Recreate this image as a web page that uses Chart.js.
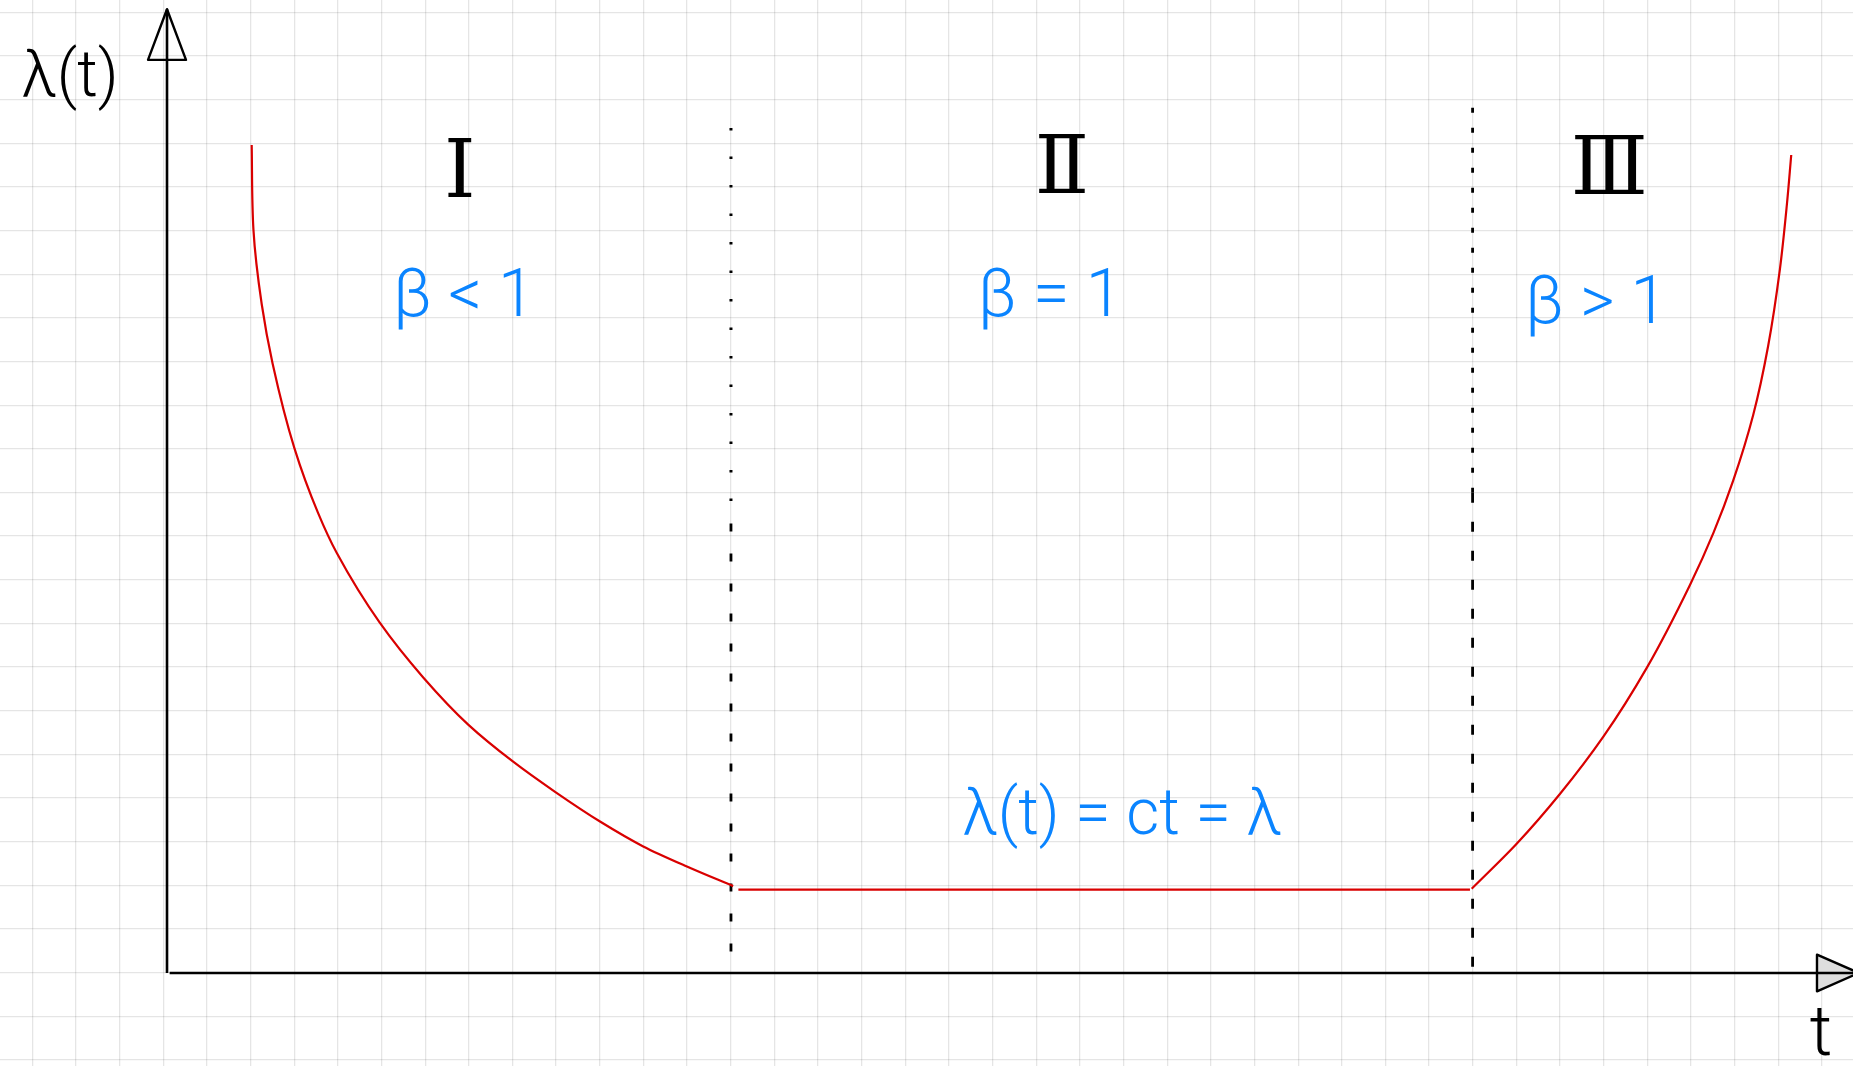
<!DOCTYPE html>
<html>
<head>
<meta charset="utf-8">
<title>λ(t)</title>
<script src="https://cdn.jsdelivr.net/npm/chart.js@4.4.1/dist/chart.umd.min.js"></script>
<style>
  html, body { margin: 0; padding: 0; background: #fff; overflow: hidden; }
  #wrap { width: 1853px; height: 1066px; position: relative; }
</style>
</head>
<body>
<div id="wrap"><canvas id="bathtub"></canvas></div>
<script>
// Units: one square of the graph paper on both axes.

// I: early failures (beta < 1)
const earlyT = [1.94, 1.98, 2.17, 2.42, 2.92, 3.46, 3.89, 4.87, 5.87, 6.90, 7.93, 8.89, 9.92, 10.91, 11.91, 12.97];
const earlyL = [18.97, 17.03, 15.32, 13.96, 12.02, 10.54, 9.62, 8.03, 6.77, 5.69, 4.84, 4.15, 3.47, 2.90, 2.44, 1.99];

// II: random failures, constant rate (beta = 1)
const flatT = [13.09, 29.85];
const flatL = [1.91, 1.91];

// III: wear-out (beta > 1)
const wearT = [29.89, 30.92, 31.91, 32.91, 33.90, 34.89, 35.43, 35.88, 36.34, 36.68, 36.95, 37.11, 37.21];
const wearL = [1.93, 2.96, 4.10, 5.42, 6.99, 8.89, 10.09, 11.28, 12.79, 14.36, 16.12, 17.60, 18.74];

// dividing lines between the phases
const dividerT = [12.92, 29.91];
const dividerTop = [19.36, 19.82];
const dividerSplit = [10.3, 11.0];
const dividerBottom = [0.1, 0.1];

// axes
const axisTEnd = 38.76;
const axisLEnd = 22.08;

// text
const regionNames = ['Ⅰ', 'Ⅱ', 'Ⅲ'];
const regionT = [6.71, 20.50, 33.04];
const regionL = [18.26, 18.35, 18.33];
const shapeTexts = ['β < 1', 'β = 1', 'β > 1'];
const shapeT = [6.80, 20.23, 32.74];
const shapeL = [15.42, 15.42, 15.26];
const flatText = 'λ(t) = ct = λ';
const flatTextT = 21.88, flatTextL = 3.55;
const yTitle = 'λ(t)', yTitleT = -2.22, yTitleL = 20.46;
const xTitle = 't', xTitleT = 37.89, xTitleL = -1.47;

// where the paper lines fall (fraction of a square)
const paperOffsetT = 0.914;
const paperOffsetL = 0.009;

const RED = '#d90000';
const BLUE = '#0a84ff';

function pts(ts, ls) {
    return ts.map((t, i) => ({ x: t, y: ls[i] }));
}

function paperTicks(offset) {
    return (scale) => {
        const ticks = [];
        for (let v = Math.ceil(scale.min - offset) + offset; v <= scale.max; v += 1) {
            ticks.push({ value: v });
        }
        scale.ticks = ticks;
    };
}

// the curves are steep near the top, so interpolate t as a function of lambda
const curve = (data) => ({
    data, borderColor: RED, borderWidth: 2.2, pointRadius: 0,
    indexAxis: 'y', cubicInterpolationMode: 'monotone', fill: false
});

const ink = (data, dash, width, color = '#000') => ({
    data, borderColor: color, borderWidth: width, pointRadius: 0,
    borderDash: dash, borderCapStyle: 'butt', fill: false, tension: 0
});

const datasets = [
    curve(pts(earlyT, earlyL)),
    ink(pts(flatT, flatL), [], 2.2, RED),
    curve(pts(wearT, wearL)),
    ink(pts([dividerT[0], dividerT[0]], [dividerTop[0], dividerSplit[0]]), [2.5, 26], 3),
    ink(pts([dividerT[0], dividerT[0]], [dividerSplit[0], dividerBottom[0]]), [8, 22], 2.8),
    ink(pts([dividerT[1], dividerT[1]], [dividerTop[1], dividerSplit[1]]), [5, 15], 2.8),
    ink(pts([dividerT[1], dividerT[1]], [dividerSplit[1], dividerBottom[1]]), [10, 19], 2.8),
    ink([{ x: 0, y: 0 }, { x: 0, y: axisLEnd }], [], 2.6),
    ink([{ x: 0.06, y: 0 }, { x: axisTEnd, y: 0 }], [], 2.6)
];

// arrow heads, drawn under the axis lines
const arrowHeads = {
    id: 'arrowHeads',
    beforeDatasetsDraw(chart) {
        const { ctx } = chart;
        const sx = chart.scales.x, sy = chart.scales.y;
        const px = (v) => sx.getPixelForValue(v);
        const py = (v) => sy.getPixelForValue(v);
        ctx.save();
        ctx.lineWidth = 2.4;
        ctx.strokeStyle = '#000';
        ctx.lineJoin = 'round';

        ctx.beginPath();
        ctx.moveTo(px(-0.435), py(axisLEnd - 1.16));
        ctx.lineTo(px(0), py(axisLEnd));
        ctx.lineTo(px(0.435), py(axisLEnd - 1.16));
        ctx.closePath();
        ctx.stroke();

        ctx.beginPath();
        ctx.moveTo(px(axisTEnd - 0.96), py(0.42));
        ctx.lineTo(px(axisTEnd), py(0));
        ctx.lineTo(px(axisTEnd - 0.96), py(-0.42));
        ctx.closePath();
        ctx.fillStyle = '#dedede';
        ctx.fill();
        ctx.stroke();
        ctx.restore();
    }
};

// handwritten notes
const notes = {
    id: 'notes',
    afterDatasetsDraw(chart) {
        const { ctx } = chart;
        const sx = chart.scales.x, sy = chart.scales.y;
        const put = (text, t, l, font, color) => {
            ctx.font = font;
            ctx.fillStyle = color;
            ctx.fillText(text, sx.getPixelForValue(t), sy.getPixelForValue(l));
        };
        ctx.save();
        ctx.textAlign = 'center';
        ctx.textBaseline = 'middle';
        regionNames.forEach((n, i) => put(n, regionT[i], regionL[i], '400 80px "DejaVu Serif", serif', '#000'));
        shapeTexts.forEach((s, i) => put(s, shapeT[i], shapeL[i], '300 66px Roboto, sans-serif', BLUE));
        put(flatText, flatTextT, flatTextL, '300 64px Roboto, sans-serif', BLUE);
        put(yTitle, yTitleT, yTitleL, '300 64px Roboto, sans-serif', '#000');
        put(xTitle, xTitleT, xTitleL, '300 70px Roboto, sans-serif', '#000');
        ctx.restore();
    }
};

const paperGrid = { color: 'rgba(0, 0, 0, 0.10)', lineWidth: 1.3, drawTicks: false };

new Chart(document.getElementById('bathtub').getContext('2d'), {
    type: 'line',
    data: { datasets },
    options: {
        responsive: true,
        maintainAspectRatio: false,
        animation: false,
        layout: { padding: 0 },
        scales: {
            x: {
                type: 'linear',
                min: -3.826, max: 38.625,
                ticks: { display: false },
                grid: paperGrid,
                border: { display: false },
                afterBuildTicks: paperTicks(paperOffsetT)
            },
            y: {
                type: 'linear',
                min: -2.131, max: 22.291,
                ticks: { display: false },
                grid: paperGrid,
                border: { display: false },
                afterBuildTicks: paperTicks(paperOffsetL)
            }
        },
        plugins: {
            legend: { display: false },
            tooltip: { enabled: false }
        }
    },
    plugins: [arrowHeads, notes]
});
</script>
</body>
</html>
